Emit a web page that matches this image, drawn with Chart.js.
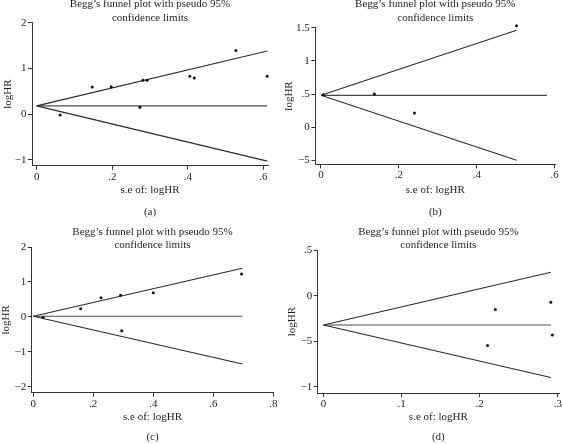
<!DOCTYPE html>
<html>
<head>
<meta charset="utf-8">
<script src="https://cdn.jsdelivr.net/npm/chart.js@4.4.1/dist/chart.umd.min.js"></script>
<style>
  html, body { margin: 0; padding: 0; background: #fff; }
  #wrap { position: relative; width: 563px; height: 444px; }
  canvas { position: absolute; }
</style>
</head>
<body>
<div id="wrap">
  <canvas id="pa" width="282" height="222" style="left:0;top:0"></canvas>
  <canvas id="pb" width="281" height="222" style="left:282px;top:0"></canvas>
  <canvas id="pc" width="282" height="222" style="left:0;top:222px"></canvas>
  <canvas id="pd" width="281" height="222" style="left:282px;top:222px"></canvas>
</div>
<script>
const TITLE = ['Begg’s funnel plot with pseudo 95%', 'confidence limits'];
const X_TITLE = 's.e of: logHR';
const Y_TITLE = 'logHR';

// (a)
const seA = [0.062, 0.147, 0.197, 0.273, 0.281, 0.292, 0.405, 0.417, 0.527, 0.61];
const logHrA = [-0.02, 0.59, 0.60, 0.15, 0.74, 0.74, 0.83, 0.79, 1.39, 0.83];
const limitSeA = [0, 0.61];
const upperA = [0.18, 1.38];
const lowerA = [0.18, -1.03];
const centerSeA = [0, 0.61];
const centerA = [0.18, 0.18];
const xTicksA = [0, 0.2, 0.4, 0.6];
const xLabelsA = ['0', '.2', '.4', '.6'];
const yTicksA = [-1, 0, 1, 2];
const yLabelsA = ['−1', '0', '1', '2'];

// (b)
const seB = [0.006, 0.137, 0.24, 0.502];
const logHrB = [0.49, 0.50, 0.215, 1.53];
const limitSeB = [0, 0.502];
const upperB = [0.48, 1.46];
const lowerB = [0.48, -0.50];
const centerSeB = [0, 0.58];
const centerB = [0.48, 0.48];
const xTicksB = [0, 0.2, 0.4, 0.6];
const xLabelsB = ['0', '.2', '.4', '.6'];
const yTicksB = [-0.5, 0, 0.5, 1, 1.5];
const yLabelsB = ['−5', '0', '.5', '1', '1.5'];

// (c)
const seC = [0.033, 0.158, 0.226, 0.291, 0.295, 0.40, 0.694];
const logHrC = [-0.02, 0.23, 0.55, 0.62, -0.40, 0.69, 1.23];
const limitSeC = [0, 0.697];
const upperC = [0.02, 1.39];
const lowerC = [0.02, -1.35];
const centerSeC = [0, 0.697];
const centerC = [0.02, 0.02];
const xTicksC = [0, 0.2, 0.4, 0.6, 0.8];
const xLabelsC = ['0', '.2', '.4', '.6', '.8'];
const yTicksC = [-2, -1, 0, 1, 2];
const yLabelsC = ['−2', '−1', '0', '1', '2'];

// (d)
const seD = [0.21, 0.22, 0.291, 0.293];
const logHrD = [-0.546, -0.15, -0.07, -0.43];
const limitSeD = [0, 0.291];
const upperD = [-0.32, 0.26];
const lowerD = [-0.32, -0.895];
const centerSeD = [0, 0.291];
const centerD = [-0.32, -0.32];
const xTicksD = [0, 0.1, 0.2, 0.3];
const xLabelsD = ['0', '.1', '.2', '.3'];
const yTicksD = [-1, -0.5, 0, 0.5];
const yLabelsD = ['−1', '−5', '0', '.5'];

const INK = '#1e1e1e';
const FONT = { family: '"Liberation Serif", "Times New Roman", serif', size: 11, weight: 'normal', lineHeight: 1.2 };
const LH = 13.2;

function pts(xs, ys) {
  return xs.map((x, i) => ({ x, y: ys[i] }));
}

function line(data, color) {
  return { type: 'line', data, borderColor: color, borderWidth: 1.1, pointRadius: 0, tension: 0, fill: false, clip: false };
}

// box: plot-area edges (px) and text positions
function funnel(id, tag, d, box) {
  const c = document.getElementById(id);
  const W = c.width, H = c.height;
  const subTop = box.subY - LH / 2;
  const axis = (ticks, labels) => ({
    type: 'linear',
    bounds: 'data',
    afterBuildTicks: s => { s.ticks = ticks.map(v => ({ value: v })); },
    border: { display: true, color: '#333', width: 1 },
    grid: { display: true, drawOnChartArea: false, drawTicks: true, tickLength: 4, tickColor: '#333', tickWidth: 1 },
    ticks: { autoSkip: false, maxRotation: 0, color: INK, font: FONT, callback: (v, i) => labels[i] },
  });

  const x = axis(d.xTicks, d.xLabels);
  x.min = box.xMin; x.max = box.xMax;
  x.ticks.padding = box.tickPad;
  x.afterFit = s => { s.height = subTop - box.bottom; };
  x.title = { display: true, text: X_TITLE, color: INK, font: FONT, padding: { top: 0, bottom: subTop - box.xTitleY - LH / 2 } };

  const y = axis(d.yTicks, d.yLabels);
  y.min = box.yMin; y.max = box.yMax;
  y.ticks.padding = 1.5;
  y.afterFit = s => { s.width = box.left; };
  y.title = { display: true, text: Y_TITLE, color: INK, font: FONT, padding: { top: box.yTitleX - LH / 2, bottom: 0 } };

  return new Chart(c, {
    type: 'scatter',
    data: {
      datasets: [
        { data: pts(d.se, d.logHr), pointRadius: 1.5, pointBackgroundColor: '#111', pointBorderWidth: 0, clip: false },
        line(pts(d.limitSe, d.upper), '#2b2b2b'),
        line(pts(d.limitSe, d.lower), '#2b2b2b'),
        line(pts(d.centerSe, d.center), '#484848'),
      ],
    },
    options: {
      responsive: false,
      animation: false,
      layout: { padding: { left: 0, top: 0, right: W - box.right, bottom: H - box.subY - LH / 2 } },
      plugins: {
        legend: { display: false },
        tooltip: { enabled: false },
        title: {
          display: true, text: TITLE, fullSize: false, color: INK, font: FONT,
          padding: { top: box.titleY - LH / 2, bottom: box.top - 2 * LH - (box.titleY - LH / 2) },
        },
        subtitle: { display: true, position: 'bottom', text: tag, fullSize: false, color: INK, font: FONT, padding: 0 },
      },
      scales: { x, y },
    },
  });
}

const topRow = { titleY: 4.5, subY: 212, xTitleY: 190.5, tickPad: 0.5 };
const botRow = { titleY: 9.7, subY: 215.4, xTitleY: 195.5, tickPad: 1 };

funnel('pa', '(a)',
  { se: seA, logHr: logHrA, limitSe: limitSeA, upper: upperA, lower: lowerA, centerSe: centerSeA, center: centerA,
    xTicks: xTicksA, xLabels: xLabelsA, yTicks: yTicksA, yLabels: yLabelsA },
  { ...topRow, left: 32, right: 268, top: 22.7, bottom: 165.7, xMin: -0.0124, xMax: 0.612, yMin: -1.13, yMax: 2, yTitleX: 8.3 });

funnel('pb', '(b)',
  { se: seB, logHr: logHrB, limitSe: limitSeB, upper: upperB, lower: lowerB, centerSe: centerSeB, center: centerB,
    xTicks: xTicksB, xLabels: xLabelsB, yTicks: yTicksB, yLabels: yLabelsB },
  { ...topRow, left: 33.3, right: 273.3, top: 27.7, bottom: 164.3, xMin: -0.0146, xMax: 0.6016, yMin: -0.56, yMax: 1.5, yTitleX: 7.3 });

funnel('pc', '(c)',
  { se: seC, logHr: logHrC, limitSe: limitSeC, upper: upperC, lower: lowerC, centerSe: centerSeC, center: centerC,
    xTicks: xTicksC, xLabels: xLabelsC, yTicks: yTicksC, yLabels: yLabelsC },
  { ...botRow, left: 31.7, right: 273.3, top: 25, bottom: 170.7, xMin: -0.005, xMax: 0.8, yMin: -2.17, yMax: 2, yTitleX: 6 });

funnel('pd', '(d)',
  { se: seD, logHr: logHrD, limitSe: limitSeD, upper: upperD, lower: lowerD, centerSe: centerSeD, center: centerD,
    xTicks: xTicksD, xLabels: xLabelsD, yTicks: yTicksD, yLabels: yLabelsD },
  { ...botRow, left: 35.7, right: 278.5, top: 28.3, bottom: 171, xMin: -0.0074, xMax: 0.3015, yMin: -1.066, yMax: 0.5, yTitleX: 10 });
</script>
</body>
</html>
